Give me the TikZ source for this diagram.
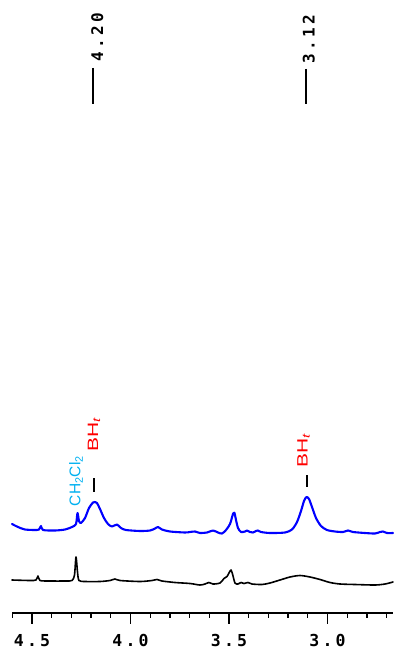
\documentclass[tikz,border=0pt]{standalone}
\usepackage{fontspec}
\setmainfont{Liberation Sans}
\newfontfamily\specmono{DejaVu Sans Mono}
\newfontfamily\specmonob{DejaVu Sans Mono Bold}
\newfontfamily\widesans[FakeStretch=1.4]{Liberation Sans}
\definecolor{cyanlbl}{RGB}{0,176,240}
\definecolor{redlbl}{RGB}{255,0,0}
\definecolor{bluetrace}{RGB}{0,0,255}
\newcommand{\gp}{\kern3.2pt}
\begin{document}
\begin{tikzpicture}[x=1pt,y=-1pt,
  trace/.style={line join=round, line cap=round},
  axislbl/.style={font=\specmonob\fontsize{16.5}{18}\selectfont, inner sep=0pt, anchor=base},
  peaklbl/.style={font=\specmonob\fontsize{16}{18}\selectfont, inner sep=0pt, anchor=base, rotate=90},
  assign/.style={font=\fontsize{15.5}{17}\selectfont, inner sep=0pt, anchor=base, rotate=90},
  bhlbl/.style={font=\widesans\fontsize{15}{17}\selectfont, text=redlbl, inner sep=0pt, anchor=base, rotate=90},
  marker/.style={line width=2pt, black}]
\useasboundingbox (0,0) rectangle (393,652);
% top peak annotations
\node[peaklbl] (p420) at (103,37) {4\gp.\gp2\gp0};
\node[peaklbl] (p312) at (314.5,39) {3\gp.\gp1\gp2};
\draw[marker] (93.3,68) -- (93.3,104);
\draw[marker] (306,69) -- (306,104);
% assignment labels
\node[assign, text=cyanlbl] (ch2cl2) at (80.3,481) {CH\textsubscript{2}Cl\textsubscript{2}};
\node[bhlbl] (bh1) at (98,435) {BH\textsubscript{\itshape t}};
\node[bhlbl] (bh2) at (307.5,450.5) {BH\textsubscript{\itshape t}};
\draw[marker] (94,478) -- (94,492);
\draw[marker] (306.5,475) -- (306.5,487);
% blue trace
\draw[trace, bluetrace, line width=2.1pt] plot[smooth, tension=0.45] coordinates {
(12,524) (18,527) (25,529.5) (35,530) (39,529.5) (41,526) (43,530) (55,530.5) (65,529.5) (72,527) (76,524) (77.5,513) (79,521) (81,523) (85,518) (89,508) (93,502.5) (95,502) (97,503) (100,509) (104,518) (108,524) (112,526.5) (117,524.5) (121,528) (126,530) (140,531) (150,530.5) (155,528.5) (158,527) (162,529.5) (170,531.5) (185,532.5) (190,532) (195,531.5) (200,533) (207,532.5) (213,530.5) (218,532.5) (222,533.5) (226,530) (230,524) (233,514) (234.5,513) (236,520) (238,528) (241,532) (245,531.5) (247,530.5) (250,532) (253,532.5) (256,531) (258,530.5) (261,532) (270,533) (285,532.5) (292,529.5) (297,522) (301,511) (304,501) (306.5,497) (309,499) (312,507) (316,518) (321,526) (327,530) (335,531.5) (343,532) (348,530.5) (353,532) (365,533) (375,533.5) (380,532) (383,531.5) (387,533) (393,533)};
% black trace
\draw[trace, black, line width=1.6pt] plot[smooth, tension=0.45] coordinates {
(12,580) (30,580.5) (36,580) (38,576) (40,580.5) (50,581) (65,581) (72,580.5) (74.5,575) (76,557) (77.5,572) (79,580.5) (85,581.5) (100,581.5) (110,580.5) (115,579) (120,580.5) (140,581.5) (152,580.5) (157,579.5) (162,581) (175,582.5) (190,583.5) (200,585) (205,584) (209,582.5) (213,584) (220,583) (224,578.5) (227,576.5) (229.5,572) (231,570) (232.5,574) (235,583) (238,584) (241,582.5) (244,583.5) (248,582.5) (252,584) (262,584.5) (270,583) (280,580) (290,577) (300,575.5) (310,577) (320,579.5) (330,582.5) (340,584) (355,584.5) (375,585) (385,584) (393,582)};
% axis
\draw[line width=1.5pt] (12,613) -- (393,613);
\foreach \i in {0,...,19} {
  \draw[line width=1.3pt] ({12.3+19.7*\i},613) -- ({12.3+19.7*\i},617.5);
}
\foreach \v/\xx in {4.5/32,4.0/130.5,3.5/229,3.0/327.5} {
  \draw[line width=1.5pt] (\xx,613) -- (\xx,624);
}
\node[axislbl] (l45) at (32,646) {4\gp.\gp5};
\node[axislbl] (l40) at (130.5,646) {4\gp.\gp0};
\node[axislbl] (l35) at (229,646) {3\gp.\gp5};
\node[axislbl] (l30) at (327.5,646) {3\gp.\gp0};
\end{tikzpicture}
\end{document}
